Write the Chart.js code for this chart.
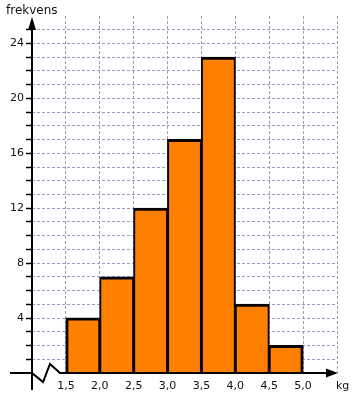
<!DOCTYPE html>
<html>
<head>
<meta charset="utf-8">
<script src="https://cdn.jsdelivr.net/npm/chart.js@4"></script>
<style>
  html, body { margin: 0; padding: 0; background: #fff; }
  canvas { display: block; }
</style>
</head>
<body>
<canvas id="myChart" width="360" height="396"></canvas>
<script>
// bin edges (kg) and frequencies per bin
const binEdges = [1.5, 2.0, 2.5, 3.0, 3.5, 4.0, 4.5, 5.0];
const frequencies = [4, 7, 12, 17, 23, 5, 2];
const yLabels = [4, 8, 12, 16, 20, 24];
const yTitle = 'frekvens';
const xTitle = 'kg';

const gridColor = '#9c9cbc';
const fontFamily = '"DejaVu Sans", Verdana, sans-serif';

// one point per bin, placed at the bin centre
const points = frequencies.map((f, i) => ({ x: (binEdges[i] + binEdges[i + 1]) / 2, y: f }));

// axes with arrows, broken x axis and the two axis titles
const axesPlugin = {
    id: 'axes',
    afterDraw(chart) {
        const { ctx } = chart;
        const xs = chart.scales.x;
        const ys = chart.scales.y;
        const x0 = xs.getPixelForValue(1.0);
        const y0 = ys.getPixelForValue(0);
        const xEnd = xs.getPixelForValue(5.5);
        ctx.save();
        ctx.strokeStyle = '#000';
        ctx.fillStyle = '#000';
        ctx.lineWidth = 2;
        ctx.lineJoin = 'miter';

        // y axis
        ctx.beginPath();
        ctx.moveTo(x0, 390);
        ctx.lineTo(x0, 26);
        ctx.stroke();
        ctx.beginPath();
        ctx.moveTo(x0, 17);
        ctx.lineTo(x0 - 4, 30);
        ctx.lineTo(x0 + 4, 30);
        ctx.closePath();
        ctx.fill();

        // x axis with zigzag break
        ctx.beginPath();
        ctx.moveTo(10, y0);
        ctx.lineTo(x0, y0);
        ctx.lineTo(x0 + 11, y0 + 9);
        ctx.lineTo(x0 + 18, y0 - 9);
        ctx.lineTo(x0 + 28, y0);
        ctx.lineTo(xEnd - 6, y0);
        ctx.stroke();
        ctx.beginPath();
        ctx.moveTo(xEnd + 1, y0);
        ctx.lineTo(xEnd - 11, y0 - 4.5);
        ctx.lineTo(xEnd - 11, y0 + 4.5);
        ctx.closePath();
        ctx.fill();

        // titles
        ctx.font = '12px ' + fontFamily;
        ctx.fillStyle = '#111';
        ctx.textBaseline = 'middle';
        ctx.textAlign = 'left';
        ctx.fillText(yTitle, 6, 11);
        ctx.font = '11px ' + fontFamily;
        ctx.fillText(xTitle, 336, 386);
        ctx.restore();
    }
};

new Chart(document.getElementById('myChart'), {
    type: 'bar',
    data: {
        datasets: [{
            data: points,
            backgroundColor: '#ff8000',
            borderColor: '#0a0400',
            borderWidth: ctx => ({
                top: 3,
                bottom: 0,
                left: ctx.dataIndex === 0 ? 3 : 2,
                right: ctx.dataIndex === frequencies.length - 1 ? 3 : 2
            }),
            borderSkipped: false,
            inflateAmount: 0.5,
            barPercentage: 1,
            categoryPercentage: 1
        }]
    },
    options: {
        responsive: false,
        animation: false,
        devicePixelRatio: 1,
        layout: { padding: { top: 16, right: 23, bottom: 0, left: 0 } },
        plugins: {
            legend: { display: false },
            tooltip: { enabled: false }
        },
        scales: {
            x: {
                type: 'linear',
                min: 1.0,
                max: 5.5,
                offset: false,
                afterFit: scale => { scale.height = 23; },
                grid: {
                    offset: false,
                    color: ctx => (ctx.tick && ctx.tick.value === 1.0 ? 'transparent' : gridColor),
                    lineWidth: 1,
                    drawTicks: false
                },
                border: { display: false, dash: [3, 2] },
                ticks: {
                    stepSize: 0.5,
                    autoSkip: false,
                    maxRotation: 0,
                    padding: 7,
                    color: '#111',
                    font: { family: fontFamily, size: 11 },
                    callback: value => {
                        const v = Number(value);
                        return v >= binEdges[0] && v <= binEdges[binEdges.length - 1] ? v.toFixed(1).replace('.', ',') : '';
                    }
                }
            },
            y: {
                min: 0,
                max: 26,
                afterFit: scale => { scale.width = 32; },
                grid: {
                    color: ctx => (ctx.tick && (ctx.tick.value === 0 || ctx.tick.value === 26) ? 'transparent' : gridColor),
                    lineWidth: 1,
                    drawTicks: true,
                    tickLength: 6,
                    tickWidth: 1.5,
                    tickColor: ctx => (ctx.tick && (ctx.tick.value === 0 || ctx.tick.value === 26) ? 'transparent' : '#000')
                },
                border: { display: false, dash: [3, 2] },
                ticks: {
                    stepSize: 1,
                    autoSkip: false,
                    padding: 2,
                    color: '#111',
                    font: { family: fontFamily, size: 11 },
                    callback: value => (yLabels.includes(value) ? String(value) : '')
                }
            }
        }
    },
    plugins: [axesPlugin]
});
</script>
</body>
</html>
